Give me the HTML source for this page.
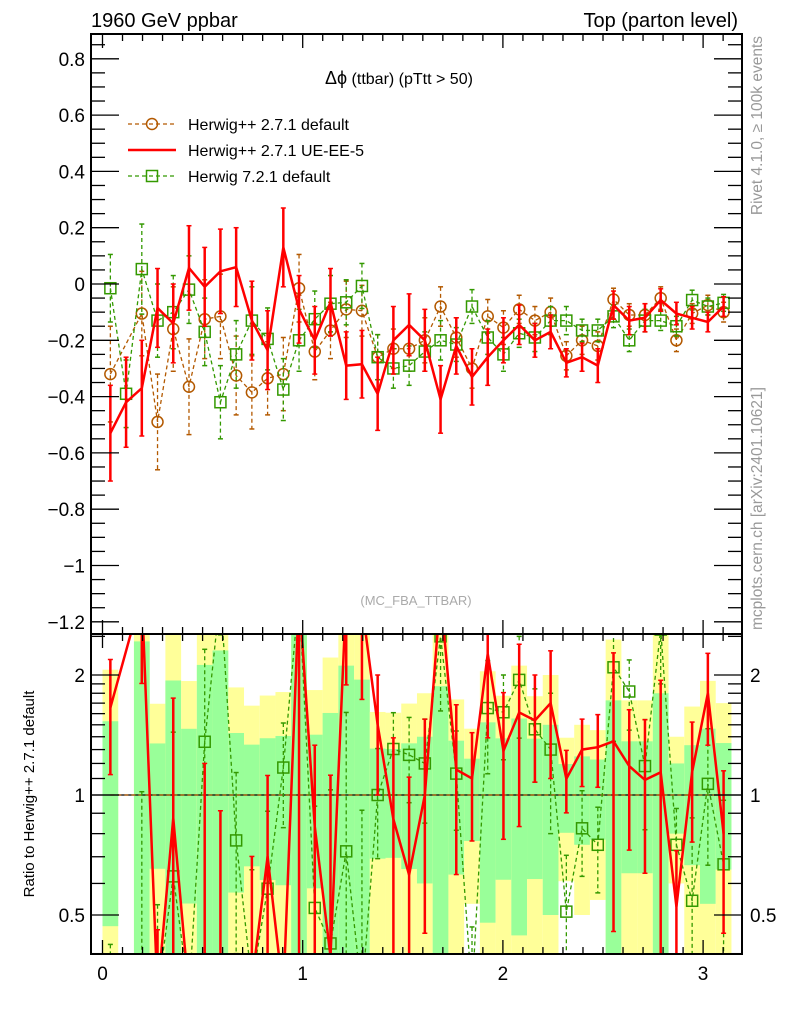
<!DOCTYPE html>
<html><head><meta charset="utf-8">
<style>
html,body{margin:0;padding:0;background:#fff;width:786px;height:1024px;overflow:hidden;}
svg{display:block;font-family:"Liberation Sans",Arial,sans-serif;}
</style></head>
<body>
<svg id="chart" width="786" height="1024" viewBox="0 0 786 1024" xmlns="http://www.w3.org/2000/svg">
<g id="bands"></g>
<g id="marks"></g>
<g id="axes"></g>
<text x="91" y="27" font-size="20">1960 GeV ppbar</text>
<text x="738" y="27" font-size="20" text-anchor="end">Top (parton level)</text>
<text x="325" y="84" font-size="16"><tspan font-size="18">Δϕ</tspan> (ttbar) (pTtt &gt; 50)</text>
<text x="416" y="605" font-size="13" fill="#aaa" text-anchor="middle">(MC_FBA_TTBAR)</text>
<text transform="translate(762,36) rotate(-90)" font-size="15.5" fill="#999" text-anchor="end">Rivet 4.1.0, ≥ 100k events</text>
<text transform="translate(762,630) rotate(-90)" font-size="15.5" fill="#999">mcplots.cern.ch [arXiv:2401.10621]</text>
<text transform="translate(34,794) rotate(-90)" font-size="15" text-anchor="middle">Ratio to Herwig++ 2.7.1 default</text>
<g>
  <g>
    <line x1="128" y1="124" x2="176" y2="124" stroke="#b35900" stroke-width="1.3" stroke-dasharray="4,3"/>
    <circle cx="152" cy="124" r="5.5" fill="none" stroke="#b35900" stroke-width="1.5"/>
    <text x="188" y="130" font-size="16">Herwig++ 2.7.1 default</text>
  </g>
  <g>
    <line x1="128" y1="150" x2="176" y2="150" stroke="#ff0000" stroke-width="2.5"/>
    <text x="188" y="156" font-size="16">Herwig++ 2.7.1 UE-EE-5</text>
  </g>
  <g>
    <line x1="128" y1="176" x2="176" y2="176" stroke="#339900" stroke-width="1.3" stroke-dasharray="4,3"/>
    <rect x="146.5" y="170.5" width="11" height="11" fill="none" stroke="#339900" stroke-width="1.5"/>
    <text x="188" y="182" font-size="16">Herwig 7.2.1 default</text>
  </g>
</g>
</svg>
<script>
// ---- data ----
const nBins = 40;
const orangeVals = [-0.32,null,-0.105,-0.49,-0.16,-0.365,-0.125,-0.115,-0.325,-0.385,-0.335,-0.32,-0.015,-0.24,-0.165,-0.09,-0.095,-0.26,-0.23,-0.23,-0.2,-0.08,-0.19,-0.3,-0.115,-0.155,-0.09,-0.13,-0.1,-0.255,-0.2,-0.22,-0.055,-0.11,-0.11,-0.05,-0.2,-0.105,-0.075,-0.1];
const orangeErrs = [0.17,0,0.15,0.17,0.15,0.17,0.14,0.15,0.14,0.13,0.13,0.13,0.12,0.1,0.1,0.1,0.09,0.08,0.07,0.08,0.08,0.07,0.07,0.07,0.06,0.06,0.05,0.05,0.05,0.05,0.05,0.05,0.04,0.04,0.04,0.04,0.04,0.035,0.035,0.035];
const redVals = [-0.53,-0.42,-0.37,-0.085,-0.14,0.057,-0.01,0.045,0.06,-0.13,-0.235,0.13,-0.09,-0.2,-0.065,-0.29,-0.285,-0.39,-0.2,-0.145,-0.2,-0.41,-0.22,-0.33,-0.26,-0.2,-0.145,-0.2,-0.17,-0.28,-0.26,-0.29,-0.075,-0.13,-0.12,-0.057,-0.105,-0.12,-0.135,-0.08];
const redErrs = [0.17,0.16,0.17,0.14,0.14,0.15,0.14,0.15,0.14,0.14,0.14,0.14,0.12,0.12,0.12,0.12,0.12,0.13,0.12,0.11,0.11,0.12,0.1,0.1,0.1,0.08,0.07,0.06,0.06,0.05,0.05,0.06,0.05,0.05,0.05,0.04,0.04,0.04,0.035,0.035];
const greenVals = [-0.015,-0.39,0.053,-0.13,-0.1,-0.02,-0.17,-0.42,-0.25,-0.13,-0.195,-0.375,-0.2,-0.125,-0.07,-0.065,-0.007,-0.26,-0.3,-0.29,-0.24,-0.2,-0.215,-0.08,-0.19,-0.25,-0.175,-0.19,-0.13,-0.13,-0.165,-0.165,-0.115,-0.2,-0.13,-0.13,-0.15,-0.057,-0.08,-0.067];
const greenErrs = [0.12,0.12,0.16,0.13,0.13,0.12,0.12,0.13,0.12,0.12,0.11,0.11,0.11,0.1,0.1,0.08,0.08,0.08,0.07,0.07,0.07,0.07,0.06,0.06,0.06,0.06,0.05,0.05,0.05,0.05,0.04,0.04,0.04,0.04,0.04,0.035,0.035,0.035,0.03,0.03];
const mainYTicks = [0.8,0.6,0.4,0.2,0,-0.2,-0.4,-0.6,-0.8,-1,-1.2];
const mainYTickLabels = ["0.8","0.6","0.4","0.2","0","−0.2","−0.4","−0.6","−0.8","−1","−1.2"];
const ratioTicks = [2,1,0.5];
const ratioTickLabels = ["2","1","0.5"];
const xTicks = [0,1,2,3];
const xTickLabels = ["0","1","2","3"];

// ---- geometry ----
const L=91,R=742,T=34,MB=634,RB=954;
const X0=102.5, XS=200.2;
function xp(v){return X0+XS*v;}
function yMain(v){return 284-281.5*v;}
function yRat(r){return 795-120*Math.log2(r);}
const RMAX=Math.pow(2,(795-MB)/120), RMIN=Math.pow(2,(795-RB)/120);
const binW=Math.PI/nBins;
const NS="http://www.w3.org/2000/svg";
function mk(tag,attrs,parent){const e=document.createElementNS(NS,tag);for(const k in attrs)e.setAttribute(k,attrs[k]);parent.appendChild(e);return e;}
const bands=document.getElementById('bands'), marks=document.getElementById('marks'), axes=document.getElementById('axes');

const defs=mk('defs',{},marks);
const c1=mk('clipPath',{id:'cm'},defs);mk('rect',{x:L,y:T,width:R-L,height:MB-T},c1);
const c2=mk('clipPath',{id:'cr'},defs);mk('rect',{x:L,y:MB,width:R-L,height:RB-MB},c2);

function clampR(r){return Math.min(Math.max(r,RMIN),RMAX);}
for(let i=0;i<nBins;i++){
  const v=orangeVals[i]; if(v===null) continue;
  const e=orangeErrs[i]/Math.abs(v);
  const x1=xp(i*binW), x2=xp((i+1)*binW);
  const ylo=1-2*e, yhi=1+2*e;
  const y1=yRat(clampR(yhi)), y2=ylo>0?yRat(clampR(ylo)):RB;
  const b=mk('rect',{x:x1,y:y1,width:x2-x1,height:y2-y1,fill:'#ffff99'},bands);
  
  
  const gy1=yRat(clampR(1+e)), gy2=(1-e)>0?yRat(clampR(1-e)):RB;
  const g=mk('rect',{x:x1,y:gy1,width:x2-x1,height:gy2-gy1,fill:'#99ff99'},bands);
  
  
}
mk('line',{x1:L,y1:795,x2:R,y2:795,stroke:'#000','stroke-width':1.2},bands);

function drawSeries(vals,errs,color,dash,width,marker,name){
  const gm=mk('g',{'clip-path':'url(#cm)'},marks);
  
  
  const gr=mk('g',{'clip-path':'url(#cr)'},marks);
  
  
  let pm=[],pr=[];
  for(let i=0;i<nBins;i++){
    const v=vals[i]; if(v===null) continue;
    const x=xp((i+0.5)*binW);
    pm.push(x+','+yMain(v));
    const ov=orangeVals[i];
    if(ov!==null){
      const r=v/ov;
      const yr=r>0?Math.min(yRat(r),RB+40):RB+40;
      pr.push(x+','+Math.max(yr,MB-40));
    }
  }
  const la={fill:'none',stroke:color,'stroke-width':width};
  if(dash) la['stroke-dasharray']=dash;
  const l1=mk('polyline',Object.assign({points:pm.join(' ')},la),gm);
  
  
  const l2=mk('polyline',Object.assign({points:pr.join(' ')},la),gr);
  
  
  for(let i=0;i<nBins;i++){
    const v=vals[i]; if(v===null) continue;
    const x=xp((i+0.5)*binW), e=errs[i];
    const ea={stroke:color,'stroke-width':marker?1.3:2.5};
    if(dash) ea['stroke-dasharray']='4,3';
    const ya=yMain(v+e), yb=yMain(v-e);
    const eb=mk('line',Object.assign({x1:x,y1:ya,x2:x,y2:yb},ea),gm);
    
    
    mk('line',{x1:x-2.5,y1:ya,x2:x+2.5,y2:ya,stroke:color,'stroke-width':1.5},gm);
    mk('line',{x1:x-2.5,y1:yb,x2:x+2.5,y2:yb,stroke:color,'stroke-width':1.5},gm);
    if(marker==='circle'){
      const c=mk('circle',{cx:x,cy:yMain(v),r:5.5,fill:'none',stroke:color,'stroke-width':1.5},gm);
      
      
    } else if(marker==='square'){
      const s=mk('rect',{x:x-5.5,y:yMain(v)-5.5,width:11,height:11,fill:'none',stroke:color,'stroke-width':1.5},gm);
      
      
    }
    const ov=orangeVals[i];
    if(ov===null || marker==='circle') continue;
    const r=v/ov, re=e/Math.abs(ov);
    const hi=r+re, lo=r-re;
    const yh=hi>0?Math.max(yRat(hi),MB-10):RB+10, yl=lo>0?Math.min(yRat(lo),RB+10):RB+10;
    const rb=mk('line',Object.assign({x1:x,y1:yh,x2:x,y2:yl},ea),gr);
    
    
    mk('line',{x1:x-2.5,y1:yh,x2:x+2.5,y2:yh,stroke:color,'stroke-width':1.5},gr);
    mk('line',{x1:x-2.5,y1:yl,x2:x+2.5,y2:yl,stroke:color,'stroke-width':1.5},gr);
    if(marker==='square' && r>0){
      const s=mk('rect',{x:x-5.5,y:yRat(r)-5.5,width:11,height:11,fill:'none',stroke:color,'stroke-width':1.5},gr);
      
      
    }
  }
}
drawSeries(orangeVals,orangeErrs,'#b35900','4,3',1.3,'circle','herwig-271-default');
drawSeries(greenVals,greenErrs,'#339900','4,3',1.3,'square','herwig-721-default');
drawSeries(redVals,redErrs,'#ff0000',null,2.5,null,'herwig-271-ue-ee-5');

// ---- axes ----
function ln(x1,y1,x2,y2,w){mk('line',{x1:x1,y1:y1,x2:x2,y2:y2,stroke:'#000','stroke-width':w||1.3},axes);}
const fr1=mk('rect',{x:L,y:T,width:R-L,height:MB-T,fill:'none',stroke:'#000','stroke-width':2},axes);


const fr2=mk('rect',{x:L,y:MB,width:R-L,height:RB-MB,fill:'none',stroke:'#000','stroke-width':2},axes);


for(let k=0;k<=31;k++){
  const v=k/10, x=xp(v); if(x>R) break;
  const len=(k%10===0)?14:7;
  ln(x,T,x,T+len);ln(x,MB,x,MB-len);ln(x,MB,x,MB+len);ln(x,RB,x,RB-len);
}
xTicks.forEach((v,i)=>{
  const t=mk('text',{x:xp(v),y:980,'font-size':19,'text-anchor':'middle'},axes);
  t.textContent=xTickLabels[i];
  
  
});
for(let k=-24;k<=17;k++){
  const v=k*0.05, y=yMain(v); if(y<T||y>MB) continue;
  const len=(k%4===0)?28:14;
  ln(L,y,L+len,y);ln(R,y,R-len,y);
}
mainYTicks.forEach((v,i)=>{
  const t=mk('text',{x:85,y:yMain(v)+7,'font-size':19,'text-anchor':'end'},axes);
  t.textContent=mainYTickLabels[i];
  
  
});
[0.4,0.5,0.6,0.7,0.8,0.9,1,1.1,1.2,1.3,1.4,1.5,1.6,1.7,1.8,1.9,2,2.5].forEach(r=>{
  const y=yRat(r); if(y<MB||y>RB) return;
  const major=(r===0.5||r===1||r===2);
  const len=major?28:14;
  ln(L,y,L+len,y);ln(R,y,R-len,y);
});
ratioTicks.forEach((v,i)=>{
  const t=mk('text',{x:85,y:yRat(v)+7,'font-size':19,'text-anchor':'end'},axes);
  t.textContent=ratioTickLabels[i];
  
  
  const t2=mk('text',{x:750,y:yRat(v)+7,'font-size':19},axes);
  t2.textContent=ratioTickLabels[i];
  
  
});
</script>
</body></html>
